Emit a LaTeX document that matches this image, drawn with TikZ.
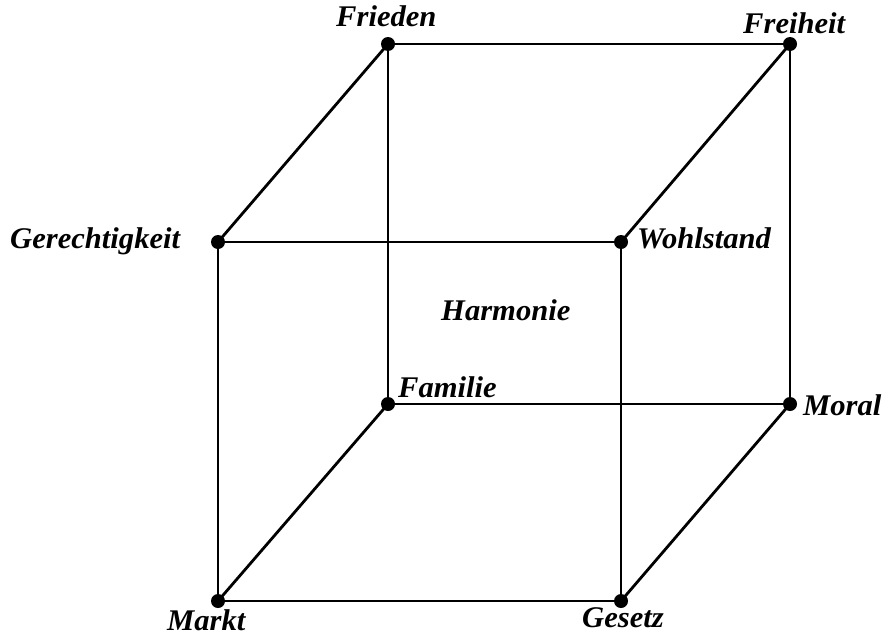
\documentclass[tikz,border=0pt]{standalone}
\usepackage{fontspec}
\newfontfamily\lblfont[FakeStretch=1.02]{Liberation Serif}
\begin{document}
\begin{tikzpicture}[x=1pt,y=-1pt,
  edge/.style={line width=2.8pt},
  vtx/.style={circle,fill=black,inner sep=0pt,minimum size=14pt},
  lbl/.style={anchor=base west,inner sep=0pt,font=\lblfont\bfseries\itshape\fontsize{30}{32}\selectfont}]
\useasboundingbox (0,0) rectangle (886,637);
% vertices
\coordinate (fr) at (388,44);
\coordinate (fh) at (790,44);
\coordinate (ge) at (218,242);
\coordinate (wo) at (621,242);
\coordinate (fa) at (388,404);
\coordinate (mo) at (790,404);
\coordinate (ma) at (218,601);
\coordinate (gs) at (621,601);
% edges
\draw[edge] (fr) -- (fh) -- (mo) -- (fa) -- cycle;
\draw[edge] (ge) -- (wo) -- (gs) -- (ma) -- cycle;
\draw[edge] (fr) -- (ge);
\draw[edge] (fh) -- (wo);
\draw[edge] (fa) -- (ma);
\draw[edge] (mo) -- (gs);
% dots
\foreach \p in {fr,fh,ge,wo,fa,mo,ma,gs} \node[vtx] (d\p) at (\p) {};
% labels
\node[lbl] (tfr) at (336,26) {Frieden};
\node[lbl] (tfh) at (743,33) {Freiheit};
\node[lbl] (tge) at (10,248) {Gerechtigkeit};
\node[lbl] (two) at (637,248) {Wohlstand};
\node[lbl] (tha) at (441,320) {Harmonie};
\node[lbl] (tfa) at (398,397) {Familie};
\node[lbl] (tmo) at (803,415) {Moral};
\node[lbl] (tma) at (167,630) {Markt};
\node[lbl] (tgs) at (582,627) {Gesetz};
\end{tikzpicture}
\end{document}
